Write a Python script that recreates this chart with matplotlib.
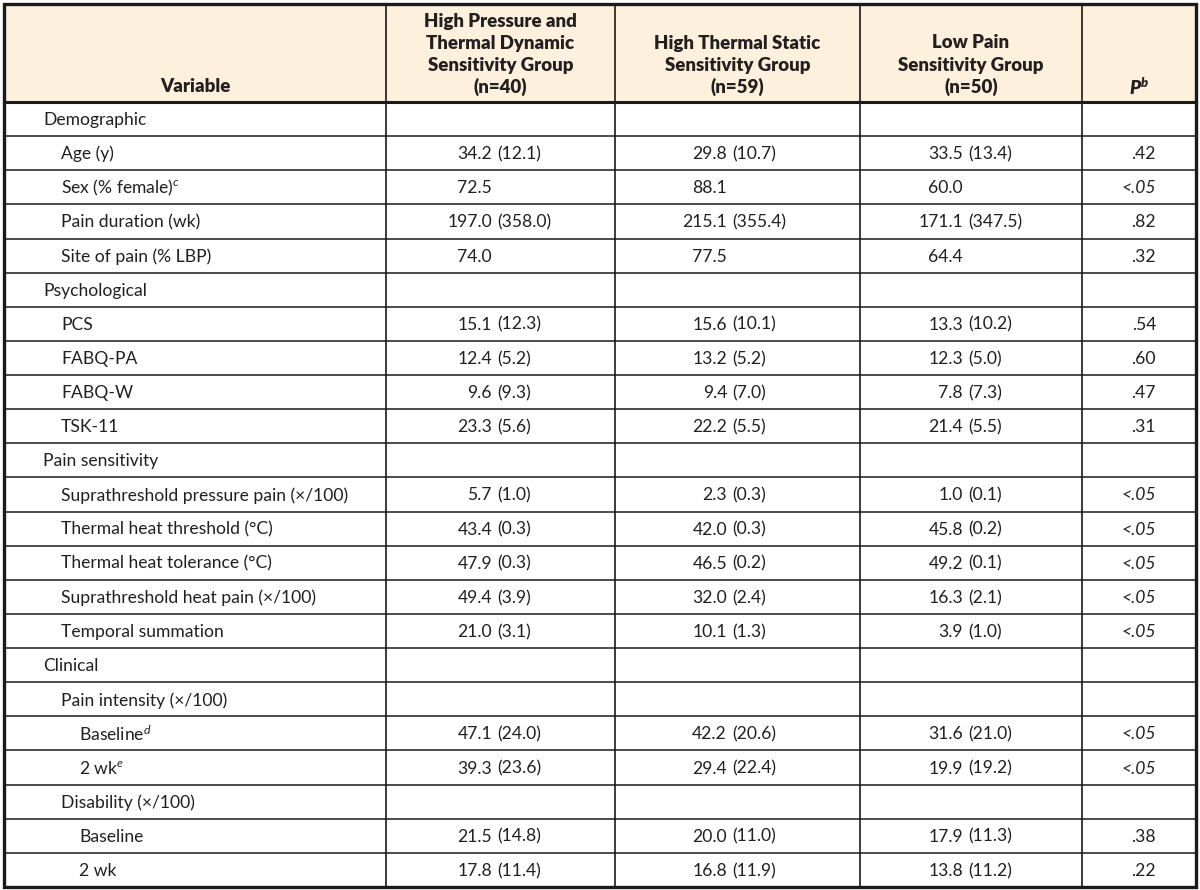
#!/usr/bin/env python3
"""
Table: characteristics of the three pain sensitivity subgroups
"""

import matplotlib.pyplot as plt
from matplotlib.patches import Rectangle

# Table content
headers = ['Variable',
           'High Pressure and\nThermal Dynamic\nSensitivity Group\n(n=40)',
           'High Thermal Static\nSensitivity Group\n(n=59)',
           'Low Pain\nSensitivity Group\n(n=50)']

labels = ['Demographic', 'Age (y)', 'Sex (% female)', 'Pain duration (wk)', 'Site of pain (% LBP)',
          'Psychological', 'PCS', 'FABQ-PA', 'FABQ-W', 'TSK-11',
          'Pain sensitivity', 'Suprathreshold pressure pain (\u00d7/100)', 'Thermal heat threshold (\u00b0C)',
          'Thermal heat tolerance (\u00b0C)', 'Suprathreshold heat pain (\u00d7/100)', 'Temporal summation',
          'Clinical', 'Pain intensity (\u00d7/100)', 'Baseline', '2 wk', 'Disability (\u00d7/100)',
          'Baseline', '2 wk']
label_sup = {2: 'c', 18: 'd', 19: 'e'}
levels = [0, 1, 1, 1, 1, 0, 1, 1, 1, 1, 0, 1, 1, 1, 1, 1, 0, 1, 2, 2, 1, 2, 2]

g1_mean = [None, 34.2, 72.5, 197.0, 74.0, None, 15.1, 12.4, 9.6, 23.3, None, 5.7, 43.4, 47.9, 49.4, 21.0,
           None, None, 47.1, 39.3, None, 21.5, 17.8]
g1_sd = [None, 12.1, None, 358.0, None, None, 12.3, 5.2, 9.3, 5.6, None, 1.0, 0.3, 0.3, 3.9, 3.1,
         None, None, 24.0, 23.6, None, 14.8, 11.4]
g2_mean = [None, 29.8, 88.1, 215.1, 77.5, None, 15.6, 13.2, 9.4, 22.2, None, 2.3, 42.0, 46.5, 32.0, 10.1,
           None, None, 42.2, 29.4, None, 20.0, 16.8]
g2_sd = [None, 10.7, None, 355.4, None, None, 10.1, 5.2, 7.0, 5.5, None, 0.3, 0.3, 0.2, 2.4, 1.3,
         None, None, 20.6, 22.4, None, 11.0, 11.9]
g3_mean = [None, 33.5, 60.0, 171.1, 64.4, None, 13.3, 12.3, 7.8, 21.4, None, 1.0, 45.8, 49.2, 16.3, 3.9,
           None, None, 31.6, 19.9, None, 17.9, 13.8]
g3_sd = [None, 13.4, None, 347.5, None, None, 10.2, 5.0, 7.3, 5.5, None, 0.1, 0.2, 0.1, 2.1, 1.0,
         None, None, 21.0, 19.2, None, 11.3, 11.2]
p_values = ['', '.42', '<.05', '.82', '.32', '', '.54', '.60', '.47', '.31', '', '<.05', '<.05', '<.05',
            '<.05', '<.05', '', '', '<.05', '<.05', '', '.38', '.22']

FONT = 'Lato'
plt.rcParams['font.family'] = FONT
plt.rcParams['mathtext.fontset'] = 'custom'
plt.rcParams['mathtext.rm'] = FONT
plt.rcParams['mathtext.it'] = FONT + ':italic'
plt.rcParams['mathtext.bf'] = FONT + ':heavy'
plt.rcParams['mathtext.bfit'] = FONT + ':italic:heavy'

TXT = '#231f20'
HEAD_BG = '#fdf0dc'
LINE = '#1a1a1a'
FS = 12.6
HFS = 13.4

fig = plt.figure(figsize=(12, 8.9), dpi=100)
ax = fig.add_axes([0, 0, 1, 1])
ax.set_xlim(0, 1200)
ax.set_ylim(890, 0)
ax.axis('off')

# layout in pixels
col_x = [4, 386, 615, 860, 1082, 1196]
top, head_bot, bottom = 4, 102, 887
row_h = (bottom - head_bot) / len(labels)
num_anchor = [492, 727, 963]
p_right = 1156
indent = [43, 61, 79]

ax.add_patch(Rectangle((col_x[0], top), col_x[-1] - col_x[0], head_bot - top,
                       facecolor=HEAD_BG, edgecolor='none', zorder=0))

# header text
head_base = 87
for i, h in enumerate(headers):
    cx = (col_x[i] + col_x[i + 1]) / 2
    lines = h.split('\n')
    for k, line in enumerate(lines):
        y = head_base - (len(lines) - 1 - k) * 22
        ax.text(cx, y, line, ha='center', va='center', fontsize=HFS, fontweight='heavy', color=TXT)
ax.text((col_x[4] + col_x[5]) / 2, head_base, r'$\mathbfit{P}^{\mathbfit{b}}$', ha='center', va='center',
        fontsize=HFS, color=TXT)

# body rows
groups = [(g1_mean, g1_sd), (g2_mean, g2_sd), (g3_mean, g3_sd)]
for r, lab in enumerate(labels):
    yc = head_bot + (r + 0.5) * row_h + 1
    txt = lab
    if r in label_sup:
        txt = lab + r'$^{\it ' + label_sup[r] + '}$'
    ax.text(indent[levels[r]], yc, txt, ha='left', va='center', fontsize=FS, color=TXT)
    for g, (means, sds) in enumerate(groups):
        if means[r] is None:
            continue
        ax.text(num_anchor[g], yc, f'{means[r]:.1f}', ha='right', va='center', fontsize=FS, color=TXT)
        if sds[r] is not None:
            ax.text(num_anchor[g] + 5, yc, f'({sds[r]:.1f})', ha='left', va='center', fontsize=FS, color=TXT)
    if p_values[r]:
        style = 'italic' if p_values[r].startswith('<') else 'normal'
        ax.text(p_right, yc, p_values[r], ha='right', va='center', fontsize=FS, color=TXT, style=style)

# grid lines
for r in range(1, len(labels)):
    y = head_bot + r * row_h
    ax.plot([col_x[0], col_x[-1]], [y, y], color=LINE, lw=1.1, zorder=2)
for x in col_x[1:-1]:
    ax.plot([x, x], [top, bottom], color=LINE, lw=1.2, zorder=2)
ax.plot([col_x[0], col_x[-1]], [head_bot, head_bot], color=LINE, lw=2.2, zorder=3)
ax.add_patch(Rectangle((col_x[0], top), col_x[-1] - col_x[0], bottom - top,
                       facecolor='none', edgecolor=LINE, lw=2.4, zorder=4))

plt.savefig('out.png', dpi=100, facecolor='white')
